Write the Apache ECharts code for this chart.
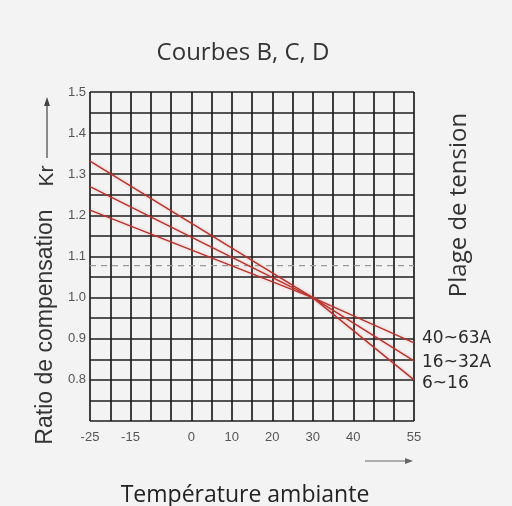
<!DOCTYPE html>
<html>
<head>
<meta charset="utf-8">
<script src="https://cdn.jsdelivr.net/npm/echarts@6/dist/echarts.min.js"></script>
<style>
html,body{margin:0;padding:0;background:#f3f3f3;}
#c{width:512px;height:506px;}
</style>
</head>
<body>
<div id="c"></div>
<script>
// Data
const seriesNames = ['6~16', '16~32A', '40~63A'];
const temps = [-25, 30, 55];
const curve616 = [1.332, 1.0, 0.80];
const curve1632 = [1.27, 1.0, 0.846];
const curve4063 = [1.213, 1.0, 0.89];
const refLevel = 1.078;
const xTickLabels = [-25, -15, 0, 10, 20, 30, 40, 55];
const yTickLabels = [0.8, 0.9, 1.0, 1.1, 1.2, 1.3, 1.4, 1.5];

const chart = echarts.init(document.getElementById('c'));
const pairs = arr => temps.map((t, i) => [t, arr[i]]);
const red = '#b8332c';
const labelOffsets = [[0, 4], [0, 2], [0, -4]];
const curves = [curve616, curve1632, curve4063];

const lineSeries = curves.map((c, i) => ({
  name: seriesNames[i],
  type: 'line',
  data: pairs(c),
  symbol: 'none',
  lineStyle: { color: red, width: 1.4, shadowColor: 'rgba(230,80,80,0.35)', shadowBlur: 3 },
  endLabel: {
    show: true, formatter: '{a}', color: '#2a2a2a',
    fontFamily: 'DejaVu Sans', fontSize: 17, offset: labelOffsets[i]
  },
  z: 5
}));

const option = {
  backgroundColor: '#f3f3f3',
  animation: false,
  grid: { left: 90, right: 98, top: 92, bottom: 85 },
  xAxis: {
    type: 'value', min: -25, max: 55, interval: 5,
    axisLine: { show: false }, axisTick: { show: false },
    splitLine: { show: true, lineStyle: { color: '#1e1e1e', width: 1.7 } },
    axisLabel: {
      color: '#555', fontFamily: 'Liberation Sans', fontSize: 13, margin: 10,
      formatter: v => xTickLabels.includes(Math.round(v)) ? String(Math.round(v)) : ''
    }
  },
  yAxis: {
    type: 'value', min: 0.7, max: 1.5, interval: 0.05,
    axisLine: { show: false }, axisTick: { show: false },
    splitLine: { show: true, lineStyle: { color: '#1e1e1e', width: 1.7 } },
    axisLabel: {
      color: '#555', fontFamily: 'Liberation Sans', fontSize: 13, margin: 4,
      formatter: v => {
        const r = Math.round(v * 100);
        return yTickLabels.some(t => Math.round(t * 100) === r) ? (r / 100).toFixed(1) : '';
      }
    }
  },
  series: [
    ...lineSeries,
    {
      name: 'ref', type: 'line', symbol: 'none',
      data: [[-25, refLevel], [55, refLevel]],
      lineStyle: { color: '#9a9a9a', width: 1.2, type: [6, 5] }, z: 3
    }
  ],
  graphic: [
    { type: 'text', x: 243, y: 53,
      style: { text: 'Courbes B, C, D', font: '24px "Open Sans"', fill: '#333',
               textAlign: 'center', textVerticalAlign: 'middle' } },
    { type: 'text', x: 46, y: 327, rotation: Math.PI / 2,
      style: { text: 'Ratio de compensation', font: '23px "Liberation Sans"', fill: '#333',
               textAlign: 'center', textVerticalAlign: 'middle' } },
    { type: 'text', x: 47, y: 176, rotation: Math.PI / 2,
      style: { text: 'Kr', font: '21px "Liberation Sans"', fill: '#333',
               textAlign: 'center', textVerticalAlign: 'middle' } },
    { type: 'line', shape: { x1: 47, y1: 158, x2: 47, y2: 102 },
      style: { stroke: '#444', lineWidth: 1.2 } },
    { type: 'polygon', shape: { points: [[47, 97], [44, 106], [50, 106]] },
      style: { fill: '#444' } },
    { type: 'text', x: 459, y: 205, rotation: Math.PI / 2,
      style: { text: 'Plage de tension', font: '24px "Open Sans"', fill: '#333',
               textAlign: 'center', textVerticalAlign: 'middle' } },
    { type: 'line', shape: { x1: 365, y1: 461, x2: 408, y2: 461 },
      style: { stroke: '#666', lineWidth: 1 } },
    { type: 'polygon', shape: { points: [[413, 461], [405, 458], [405, 464]] },
      style: { fill: '#666' } },
    { type: 'text', x: 245, y: 495,
      style: { text: 'Température ambiante', font: '23px "Open Sans"', fill: '#222',
               textAlign: 'center', textVerticalAlign: 'middle' } }
  ]
};
chart.setOption(option);
</script>
</body>
</html>
